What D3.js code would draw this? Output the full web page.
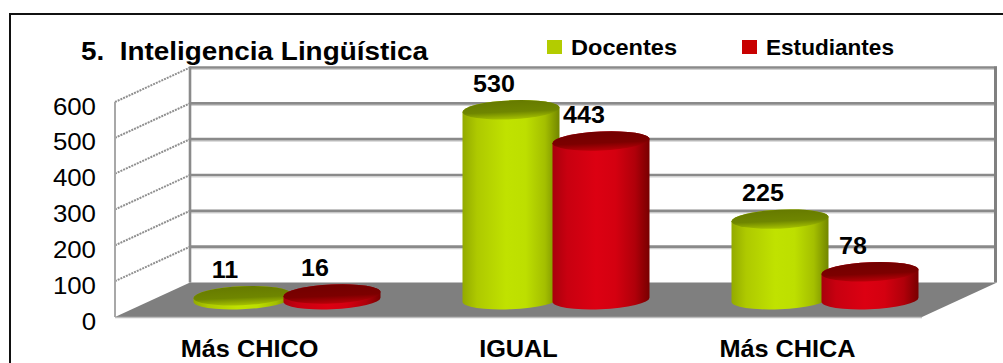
<!DOCTYPE html>
<html>
<head>
<meta charset="utf-8">
<script src="https://cdn.jsdelivr.net/npm/d3@7/dist/d3.min.js"></script>
<style>
  html, body { margin: 0; padding: 0; background: #fff; }
  svg { display: block; }
  text { font-family: Arial, "Liberation Sans", sans-serif; fill: #000; white-space: pre; }
</style>
</head>
<body>
<svg id="chart" width="1003" height="363"></svg>
<script>
// Chart data
const categories = ["Más CHICO", "IGUAL", "Más CHICA"];
const seriesNames = ["Docentes", "Estudiantes"];
const docentes = [11, 530, 225];
const estudiantes = [16, 443, 78];
const yTicks = [0, 100, 200, 300, 400, 500, 600];
const titleText = "5.  Inteligencia Lingüística";

const svg = d3.select("#chart");

// 3D box geometry: front plane scales plus a depth offset
const DX = 75, DY = 34.5;
const yFront = d3.scaleLinear().domain([0, 600]).range([317, 102]);
const x0 = d3.scaleBand().domain(categories).range([115, 922]);
const x1 = d3.scaleBand().domain(seriesNames).range([-90, 90]);

const colors = {
  Docentes: { side: ["#93aa00", "#aec900", "#c0e200", "#bddf00", "#a4bf00", "#728600"],
              top: ["#667a00", "#6f8600", "#a6c200"], key: "#b3cc00" },
  Estudiantes: { side: ["#a8000c", "#c80010", "#dc0012", "#d40010", "#b0000a", "#780000"],
                 top: ["#720000", "#7c0000", "#b80008"], key: "#c80000" }
};

const defs = svg.append("defs");
seriesNames.forEach((s, i) => {
  const gs = defs.append("linearGradient").attr("id", "side" + i)
    .attr("x1", 0).attr("y1", 0).attr("x2", 1).attr("y2", 0);
  const offs = [0, 0.15, 0.45, 0.65, 0.85, 1];
  colors[s].side.forEach((c, k) => gs.append("stop").attr("offset", offs[k]).attr("stop-color", c));
  const gt = defs.append("linearGradient").attr("id", "top" + i)
    .attr("x1", 0).attr("y1", 0).attr("x2", 0).attr("y2", 1);
  [0, 0.6, 1].forEach((o, k) => gt.append("stop").attr("offset", o).attr("stop-color", colors[s].top[k]));
});

// Outer frame
svg.append("rect").attr("x", 10).attr("y", 14).attr("width", 1100).attr("height", 400)
  .attr("fill", "none").attr("stroke", "#111").attr("stroke-width", 2);

// Back wall
const bx0 = x0.range()[0] + DX, bx1 = x0.range()[1] + DX;
const yBack = v => yFront(v) - DY;
svg.append("rect").attr("x", bx0).attr("y", yBack(600)).attr("width", bx1 - bx0)
  .attr("height", yBack(0) - yBack(600)).attr("fill", "#fff");

// Left side wall
svg.append("path")
  .attr("d", `M${x0.range()[0]},${yFront(600)} L${bx0},${yBack(600)} L${bx0},${yBack(0)} L${x0.range()[0]},${yFront(0)} Z`)
  .attr("fill", "#fff");

// Back wall gridlines
const gridTicks = yTicks.filter(v => v > 0);
svg.selectAll(".grid-light").data(gridTicks).join("line")
  .attr("x1", bx0).attr("x2", bx1)
  .attr("y1", d => yBack(d) + 2).attr("y2", d => yBack(d) + 2)
  .attr("stroke", "#d2d2d2").attr("stroke-width", 1.2);
svg.selectAll(".grid").data(gridTicks).join("line")
  .attr("x1", bx0).attr("x2", bx1)
  .attr("y1", d => yBack(d)).attr("y2", d => yBack(d))
  .attr("stroke", "#8a8a8a").attr("stroke-width", 2.6);

// Side wall gridlines (dotted)
svg.selectAll(".side-grid").data(gridTicks).join("line")
  .attr("x1", x0.range()[0]).attr("y1", d => yFront(d))
  .attr("x2", bx0).attr("y2", d => yBack(d))
  .attr("stroke", "#8f8f8f").attr("stroke-width", 2).attr("stroke-dasharray", "2,1");

// Wall edges
svg.append("line").attr("x1", bx0).attr("x2", bx0).attr("y1", yBack(600) - 1).attr("y2", yBack(0))
  .attr("stroke", "#8a8a8a").attr("stroke-width", 2.6);
svg.append("line").attr("x1", bx1 - 1.5).attr("x2", bx1 - 1.5).attr("y1", yBack(600) - 1).attr("y2", yBack(0))
  .attr("stroke", "#808080").attr("stroke-width", 3);
svg.append("line").attr("x1", x0.range()[0]).attr("x2", x0.range()[0])
  .attr("y1", yFront(600)).attr("y2", yFront(0))
  .attr("stroke", "#a8a8a8").attr("stroke-width", 2);

// Floor
svg.append("path")
  .attr("d", `M${x0.range()[0]},${yFront(0)} L${x0.range()[1]},${yFront(0)} L${bx1},${yBack(0)} L${bx0},${yBack(0)} Z`)
  .attr("fill", "#7f7f7f");
svg.append("line").attr("x1", x0.range()[0]).attr("x2", x0.range()[1])
  .attr("y1", yFront(0) + 0.5).attr("y2", yFront(0) + 0.5)
  .attr("stroke", "#bdbdbd").attr("stroke-width", 1.5);

// Cylinders (placed at half depth)
const RX = 48.5, RY = 9.5;
const yBar = v => yFront(v) - DY / 2;
const seriesValues = [docentes, estudiantes];
const bars = [];
seriesNames.forEach((s, si) => {
  categories.forEach((c, ci) => {
    const cx = x0(c) + x0.bandwidth() / 2 + x1(s) + x1.bandwidth() / 2 + DX / 2;
    bars.push({ s, si, c, v: seriesValues[si][ci], cx });
  });
});

const barG = svg.append("g");
bars.forEach(b => {
  const yb = yBar(0), yt = yBar(b.v), h = yb - yt;
  const g = barG.append("g").attr("transform", `translate(${b.cx},${yb}) skewY(-2.5)`);
  g.append("path")
    .attr("d", `M${-RX},${-h} L${-RX},0 A${RX},${RY} 0 0 0 ${RX},0 L${RX},${-h} A${RX},${RY} 0 0 0 ${-RX},${-h} Z`)
    .attr("fill", `url(#side${b.si})`);
  g.append("ellipse").attr("cx", 0).attr("cy", -h).attr("rx", RX).attr("ry", RY)
    .attr("fill", `url(#top${b.si})`);
});

// Value labels
const SX = 1.09;
svg.selectAll(".val").data(bars).join("text")
  .attr("transform", d => `translate(${d.cx - 17},${yBar(d.v) - 18}) scale(${SX},1)`)
  .attr("text-anchor", "middle")
  .style("font-size", "23px").style("font-weight", "bold")
  .text(d => d.v);

// Y axis on the front edge
const yAxis = svg.append("g").attr("transform", "translate(96,0)")
  .call(d3.axisLeft(yFront).tickValues(yTicks).tickSize(0).tickPadding(0));
yAxis.select(".domain").remove();
yAxis.selectAll("text")
  .attr("x", 0).attr("dy", 12).attr("transform", "scale(1.1,1)")
  .style("font-size", "23.5px").style("font-family", "Arial, 'Liberation Sans', sans-serif")
  .attr("fill", "#000");

// Category axis
const xAxis = svg.append("g").attr("transform", "translate(0,357)")
  .call(d3.axisBottom(x0).tickSize(0).tickPadding(0));
xAxis.select(".domain").remove();
xAxis.selectAll("text")
  .attr("y", 0).attr("dy", 0).attr("transform", "scale(1.1,1)")
  .style("font-size", "23px").style("font-weight", "bold")
  .style("font-family", "Arial, 'Liberation Sans', sans-serif")
  .attr("fill", "#000");

// Title
svg.append("text").attr("x", 81).attr("y", 60)
  .attr("textLength", 347).attr("lengthAdjust", "spacingAndGlyphs")
  .style("font-size", "25px").style("font-weight", "bold")
  .text(titleText);

// Legend
const legendX = [547, 742];
const legend = svg.selectAll(".legend").data(seriesNames).join("g")
  .attr("transform", (d, i) => `translate(${legendX[i]},40)`);
legend.append("rect").attr("width", 15).attr("height", 14)
  .attr("fill", d => colors[d].key);
legend.append("text").attr("x", 24).attr("y", 15)
  .attr("textLength", (d, i) => [106, 128][i]).attr("lengthAdjust", "spacingAndGlyphs")
  .style("font-size", "22px").style("font-weight", "bold")
  .text(d => d);
</script>
</body>
</html>
